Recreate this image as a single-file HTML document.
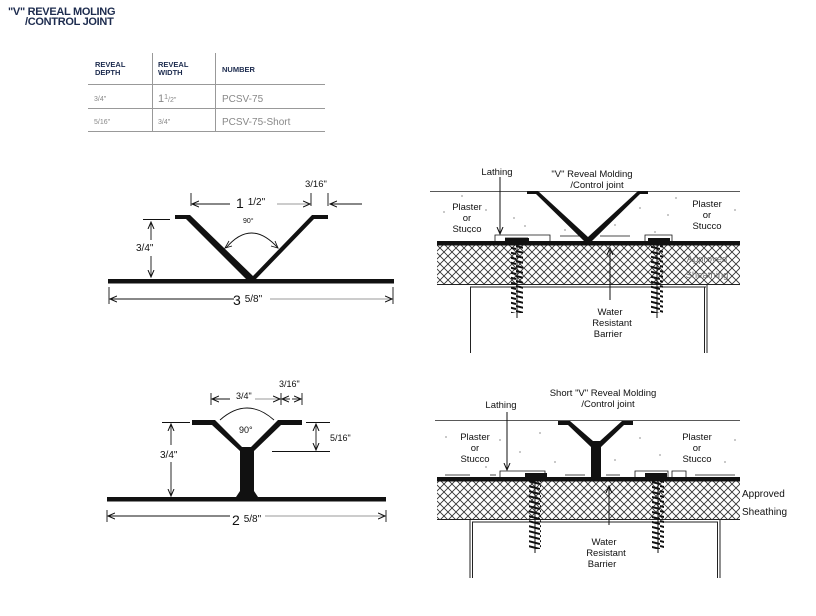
<!DOCTYPE html>
<html><head><meta charset="utf-8"><style>
body{margin:0;background:#fff;width:816px;height:616px;overflow:hidden}
svg{display:block;font-family:"Liberation Sans",sans-serif}
</style></head><body>
<svg width="816" height="616" viewBox="0 0 816 616" xmlns="http://www.w3.org/2000/svg">
<defs>
<pattern id="hatch" width="8" height="8" patternUnits="userSpaceOnUse">
<path d="M0,0 L8,8 M8,0 L0,8 M-4,4 L4,12 M4,-4 L12,4 M4,12 L12,4 M-4,4 L4,-4" stroke="#333" stroke-width="0.9" fill="none"/>
</pattern>
<pattern id="screw" width="12" height="5" patternUnits="userSpaceOnUse">
<path d="M0,1 L12,4" stroke="#111" stroke-width="2"/>
</pattern>
<marker id="ah" markerWidth="8" markerHeight="8" refX="7" refY="4" orient="auto" markerUnits="userSpaceOnUse"><path d="M0,1 L7,4 L0,7" fill="none" stroke="#111" stroke-width="1"/></marker>
</defs>

<text x="8" y="15" font-size="11" font-weight="bold" fill="#1c2b4e" letter-spacing="-0.3">"V" REVEAL MOLING</text>
<text x="25" y="25" font-size="11" font-weight="bold" fill="#1c2b4e" letter-spacing="-0.3">/CONTROL JOINT</text>

<g font-size="7.5" font-weight="bold" fill="#1c2b4e">
<text x="95" y="67">REVEAL</text><text x="95" y="75">DEPTH</text>
<text x="158" y="67">REVEAL</text><text x="158" y="75">WIDTH</text>
<text x="222" y="72">NUMBER</text>
</g>
<g stroke="#999" stroke-width="1">
<line x1="88" y1="84.5" x2="325" y2="84.5"/><line x1="88" y1="108.5" x2="325" y2="108.5"/><line x1="88" y1="131.5" x2="325" y2="131.5"/>
<line x1="152.5" y1="53" x2="152.5" y2="131"/><line x1="215.5" y1="53" x2="215.5" y2="131"/>
</g>
<g fill="#888">
<text x="94" y="101" font-size="7">3/4"</text>
<text x="158" y="102" font-size="11">1<tspan font-size="7" dy="-3">1</tspan><tspan font-size="7" dy="3">/2"</tspan></text>
<text x="222" y="102" font-size="10">PCSV-75</text>
<text x="94" y="124" font-size="7">5/16"</text>
<text x="158" y="124" font-size="7">3/4"</text>
<text x="222" y="125" font-size="10">PCSV-75-Short</text>
</g>

<g fill="#111" stroke="none">
<rect x="108" y="279" width="286" height="4.5"/>
<polygon points="175,215 190,215 253,276 312,215 328,215 328,219 314,219 256,279 246,279 186,219 175,219"/>
</g>
<g stroke="#111" stroke-width="0.9" fill="none">
<line x1="191" y1="193" x2="191" y2="206"/><line x1="311" y1="193" x2="311" y2="206"/><line x1="328" y1="193" x2="328" y2="206"/>
<line x1="230" y1="204" x2="192" y2="204" marker-end="url(#ah)"/>
<line x1="277" y1="204" x2="310" y2="204" marker-end="url(#ah)" stroke="#999"/>
<line x1="362" y1="204" x2="330" y2="204" marker-end="url(#ah)"/>
<line x1="143" y1="219.5" x2="170" y2="219.5"/>
<line x1="151" y1="240" x2="151" y2="222" marker-end="url(#ah)"/>
<line x1="151" y1="256" x2="151" y2="277" marker-end="url(#ah)"/>
<path d="M226,248 Q251,218 278,248"/>
<path d="M229,241 L225,248 L232,246" />
<path d="M271,246 L278,248 L275,241" />
<line x1="109" y1="287" x2="109" y2="304"/><line x1="393" y1="287" x2="393" y2="304"/>
<line x1="234" y1="299" x2="110" y2="299" marker-end="url(#ah)"/>
<line x1="270" y1="299" x2="392" y2="299" marker-end="url(#ah)" stroke="#999"/>
</g>
<g fill="#111">
<text x="236" y="208" font-size="14">1 <tspan font-size="10" dy="-3">1/2"</tspan></text>
<text x="305" y="187" font-size="9.5">3/16"</text>
<text x="243" y="223" font-size="7">90°</text>
<text x="136" y="251" font-size="10">3/4"</text>
<text x="233" y="305" font-size="14">3 <tspan font-size="10" dy="-3">5/8"</tspan></text>
</g>

<g fill="#111">
<rect x="107" y="497" width="279" height="4.5"/>
<polygon points="192,420 215,420 242,447 251,447 278,420 302,420 302,425 281,425 254,451 254,491 258,497 236,497 240,491 240,451 212,425 192,425"/>
</g>
<g stroke="#111" stroke-width="0.9" fill="none">
<line x1="211" y1="393" x2="211" y2="405"/><line x1="281" y1="393" x2="281" y2="405"/><line x1="302" y1="393" x2="302" y2="405"/>
<line x1="230" y1="399" x2="212" y2="399" marker-end="url(#ah)"/>
<line x1="255" y1="399" x2="280" y2="399" marker-end="url(#ah)" stroke="#999"/>
<line x1="290" y1="399" x2="282" y2="399" marker-end="url(#ah)"/>
<line x1="292" y1="399" x2="301" y2="399" marker-end="url(#ah)"/>
<path d="M220,420 Q247,396 274,420"/>
<line x1="162" y1="422.5" x2="190" y2="422.5"/>
<line x1="171" y1="445" x2="171" y2="424" marker-end="url(#ah)"/>
<line x1="171" y1="462" x2="171" y2="496" marker-end="url(#ah)"/>
<line x1="306" y1="422.5" x2="330" y2="422.5"/><line x1="272" y1="451.5" x2="330" y2="451.5"/>
<line x1="316" y1="436" x2="316" y2="424" marker-end="url(#ah)"/>
<line x1="316" y1="436" x2="316" y2="450" marker-end="url(#ah)"/>
<line x1="107" y1="510" x2="107" y2="522"/><line x1="386" y1="510" x2="386" y2="522"/>
<line x1="230" y1="516" x2="108" y2="516" marker-end="url(#ah)" stroke="#111"/>
<line x1="265" y1="516" x2="385" y2="516" marker-end="url(#ah)" stroke="#999"/>
</g>
<g fill="#111">
<text x="236" y="399" font-size="9">3/4"</text>
<text x="279" y="387" font-size="9">3/16"</text>
<text x="239" y="433" font-size="9">90°</text>
<text x="160" y="458" font-size="10">3/4"</text>
<text x="330" y="441" font-size="9">5/16"</text>
<text x="232" y="525" font-size="14">2 <tspan font-size="10" dy="-3">5/8"</tspan></text>
</g>

<g>
<line x1="430" y1="191.5" x2="740" y2="191.5" stroke="#222" stroke-width="0.8"/>
<rect x="437" y="245" width="303" height="39" fill="url(#hatch)"/>
<line x1="437" y1="284.5" x2="740" y2="284.5" stroke="#222"/>
<line x1="470" y1="287" x2="706" y2="287" stroke="#222"/>
<line x1="470.5" y1="287" x2="470.5" y2="353" stroke="#222"/>
<line x1="704.5" y1="287" x2="704.5" y2="353" stroke="#222"/><line x1="707" y1="285" x2="707" y2="353" stroke="#222"/>
<rect x="437" y="241" width="303" height="4.5" fill="#111"/>
<polygon points="527,191 538,191 588,237 638,191 648,191 648,194 640,194 592,241 584,241 536,194 527,194" fill="#111"/>
<g fill="none" stroke="#111" stroke-width="0.8">
<path d="M495,241 V235 H550 V241 M505,238 H528 M560,236 H580 M600,236 H630 M645,241 V235 H672 V241"/>
</g>
<rect x="505" y="238" width="24" height="3" fill="#111"/><rect x="648" y="238" width="22" height="3" fill="#111"/>
<rect x="511" y="245" width="12" height="68" fill="url(#screw)"/><line x1="517" y1="245" x2="517" y2="318" stroke="#111"/>
<rect x="651" y="245" width="12" height="68" fill="url(#screw)"/><line x1="657" y1="245" x2="657" y2="318" stroke="#111"/>
<line x1="500" y1="177" x2="500" y2="234" stroke="#111" marker-end="url(#ah)"/>
<line x1="610" y1="300" x2="610" y2="248" stroke="#111" marker-end="url(#ah)"/>
<g fill="#444"><circle cx="444" cy="212" r=".6"/><circle cx="486" cy="210" r=".6"/><circle cx="514" cy="218" r=".6"/><circle cx="470" cy="232" r=".6"/><circle cx="525" cy="226" r=".6"/><circle cx="640" cy="208" r=".6"/><circle cx="668" cy="215" r=".6"/><circle cx="655" cy="232" r=".6"/><circle cx="735" cy="210" r=".6"/><circle cx="676" cy="198" r=".6"/><circle cx="462" cy="196" r=".6"/><circle cx="615" cy="225" r=".6"/><circle cx="565" cy="230" r=".6"/></g>
<g font-size="9.5" fill="#111" text-anchor="middle">
<text x="497" y="175">Lathing</text>
<text x="592" y="177">"V" Reveal Molding</text>
<text x="597" y="188">/Control joint</text>
<text x="467" y="210">Plaster</text><text x="467" y="221">or</text><text x="467" y="232">Stucco</text>
<text x="707" y="207">Plaster</text><text x="707" y="218">or</text><text x="707" y="229">Stucco</text>
<text x="610" y="315">Water</text><text x="612" y="326">Resistant</text><text x="608" y="337">Barrier</text>
<text x="707" y="262" fill="#777">Approved</text><text x="707" y="278" fill="#777">Sheathing</text>
</g>
</g>

<g>
<line x1="435" y1="420.5" x2="740" y2="420.5" stroke="#222" stroke-width="0.8"/>
<rect x="437" y="481" width="303" height="38" fill="url(#hatch)"/>
<line x1="437" y1="519.5" x2="740" y2="519.5" stroke="#222"/>
<line x1="472" y1="522" x2="718" y2="522" stroke="#222"/>
<line x1="472.5" y1="522" x2="472.5" y2="578" stroke="#222"/><line x1="470" y1="520" x2="470" y2="578" stroke="#222"/>
<line x1="717.5" y1="522" x2="717.5" y2="578" stroke="#222"/><line x1="720" y1="520" x2="720" y2="578" stroke="#222"/>
<rect x="437" y="477" width="303" height="4.5" fill="#111"/>
<polygon points="558,421 570,421 593,441 600,441 622,421 633,421 633,425 624,425 601,447 601,477 591,477 591,447 568,425 558,425" fill="#111"/>
<g fill="none" stroke="#111" stroke-width="0.8">
<path d="M500,477 V471 H545 V477 M445,475 H470 M490,475 H496 M565,475 H585 M606,475 H620 M635,477 V471 H668 V477 M672,477 V471 H686 V477 M695,475 H735"/>
</g>
<rect x="525" y="473" width="22" height="4" fill="#111"/><rect x="645" y="473" width="22" height="4" fill="#111"/>
<rect x="529" y="481" width="12" height="68" fill="url(#screw)"/><line x1="535" y1="481" x2="535" y2="553" stroke="#111"/>
<rect x="652" y="481" width="12" height="68" fill="url(#screw)"/><line x1="658" y1="481" x2="658" y2="553" stroke="#111"/>
<line x1="507" y1="412" x2="507" y2="470" stroke="#111" marker-end="url(#ah)"/>
<line x1="609" y1="525" x2="609" y2="486" stroke="#111" marker-end="url(#ah)"/>
<g fill="#444"><circle cx="446" cy="437" r=".6"/><circle cx="500" cy="440" r=".6"/><circle cx="520" cy="452" r=".6"/><circle cx="486" cy="467" r=".6"/><circle cx="540" cy="433" r=".6"/><circle cx="555" cy="462" r=".6"/><circle cx="640" cy="438" r=".6"/><circle cx="660" cy="455" r=".6"/><circle cx="735" cy="440" r=".6"/><circle cx="725" cy="462" r=".6"/><circle cx="615" cy="460" r=".6"/></g>
<g font-size="9.5" fill="#111" text-anchor="middle">
<text x="603" y="396">Short "V" Reveal Molding</text>
<text x="608" y="407">/Control joint</text>
<text x="501" y="408">Lathing</text>
<text x="475" y="440">Plaster</text><text x="475" y="451">or</text><text x="475" y="462">Stucco</text>
<text x="697" y="440">Plaster</text><text x="697" y="451">or</text><text x="697" y="462">Stucco</text>
<text x="604" y="545">Water</text><text x="606" y="556">Resistant</text><text x="602" y="567">Barrier</text>
</g>
<g font-size="10" fill="#111"><text x="742" y="497">Approved</text><text x="742" y="515">Sheathing</text></g>
</g>
</svg>
</body></html>
